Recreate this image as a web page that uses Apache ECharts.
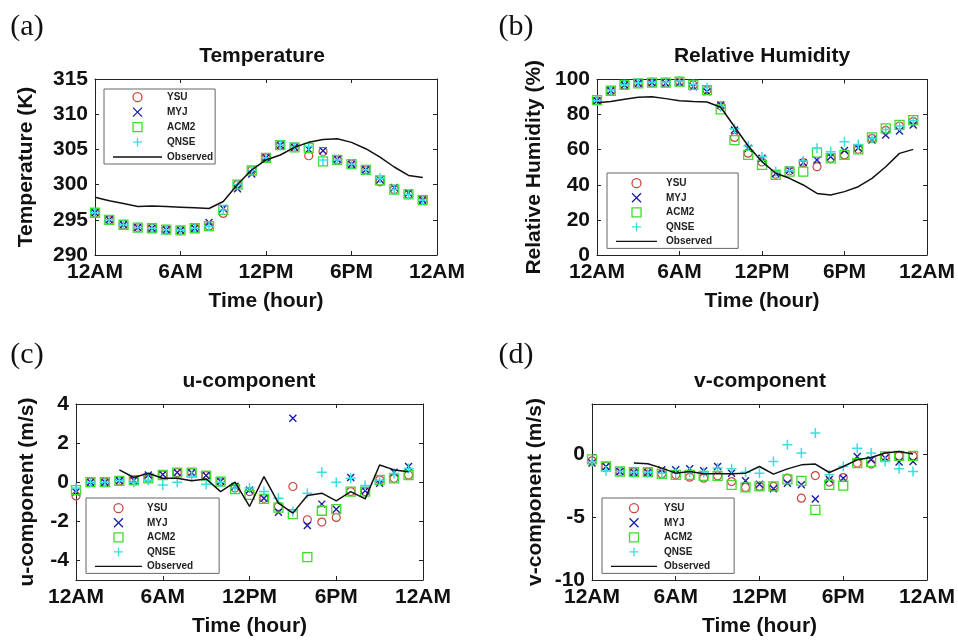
<!DOCTYPE html>
<html><head><meta charset="utf-8">
<script src="https://cdn.jsdelivr.net/npm/echarts@6/dist/echarts.min.js"></script>
<style>html,body{margin:0;padding:0;background:#fff}#c{width:958px;height:640px}</style>
</head><body><div id="c"></div>
<script>
// ---------- data ----------
const hours = [0,1,2,3,4,5,6,7,8,9,10,11,12,13,14,15,16,17,18,19,20,21,22,23];
const xTickLabels = ['12AM','6AM','12PM','6PM','12AM'];
const seriesNames = ['YSU','MYJ','ACM2','QNSE','Observed'];

// (a) Temperature (K)
const tempYSU  = [296.0,295.0,294.3,293.9,293.8,293.6,293.5,293.8,294.1,295.9,300.0,302.0,303.8,305.6,305.3,304.1,304.7,303.5,302.9,302.1,300.4,299.3,298.6,297.8];
const tempMYJ  = [296.0,295.0,294.3,293.9,293.8,293.6,293.5,293.8,294.6,296.6,299.4,301.5,303.8,305.6,305.3,305.0,304.8,303.6,302.9,302.1,300.7,299.6,298.8,297.8];
const tempACM2 = [296.0,295.0,294.3,293.9,293.8,293.6,293.5,293.8,294.1,296.4,300.0,302.0,303.8,305.6,305.3,305.2,303.3,303.5,302.9,302.1,300.6,299.3,298.6,297.8];
const tempQNSE = [296.0,295.0,294.3,293.9,293.8,293.6,293.5,293.8,294.1,296.4,300.0,302.0,303.8,305.6,305.3,305.4,303.5,303.5,302.9,302.1,300.9,299.3,298.6,297.8];
const tempObs  = [298.2,297.7,297.3,296.9,296.95,296.9,296.8,296.7,296.6,297.6,300.0,302.1,303.5,304.2,305.3,306.0,306.4,306.5,306.0,305.1,303.9,302.5,301.3,301.0];

// (b) Relative Humidity (%)
const rhYSU  = [87.9,93.6,96.9,97.8,98.2,98.2,98.8,96.9,94.0,85.0,67.0,58.0,53.0,46.0,48.0,52.6,50.3,55.1,57.0,60.2,66.5,71.0,73.5,76.0];
const rhMYJ  = [87.9,93.6,96.9,97.8,98.2,97.8,98.2,95.9,93.0,85.5,71.2,60.8,55.1,46.5,48.5,52.6,54.1,56.0,59.5,61.0,65.5,68.4,70.7,74.1];
const rhACM2 = [88.2,93.6,96.9,97.8,98.2,98.2,98.8,96.9,94.0,83.0,65.5,57.0,51.3,45.6,47.5,47.5,58.3,55.1,57.0,60.2,67.0,72.2,74.1,76.9];
const rhQNSE = [87.9,94.0,97.0,98.0,98.5,98.6,99.2,97.2,95.5,84.5,72.0,62.1,56.0,47.5,48.0,53.5,60.8,58.9,64.6,63.0,66.5,71.5,73.5,76.5];
const rhObs  = [86.8,87.4,88.7,89.9,90.2,89.1,87.9,87.4,87.2,84.2,73.1,62.1,53.2,46.6,43.7,39.9,35.1,34.2,36.1,38.9,43.7,50.3,57.9,60.2];

// (c) u-component (m/s)
const uYSU  = [-0.7,0.0,0.0,0.07,0.1,0.2,0.37,0.49,0.49,0.34,0.03,-0.3,-0.48,-0.82,-1.24,-0.22,-1.92,-2.04,-1.8,-0.48,-0.48,0.12,0.2,0.37];
const uMYJ  = [-0.5,0.0,0.0,0.07,0.1,0.37,0.4,0.5,0.49,0.34,0.05,-0.2,-0.4,-0.82,-1.53,3.27,-2.21,-1.12,-1.38,0.24,-0.43,-0.05,0.51,0.8];
const uACM2 = [-0.4,0.0,0.0,0.07,0.1,0.2,0.37,0.49,0.49,0.34,0.03,-0.35,-0.65,-0.85,-1.3,-1.63,-3.83,-1.46,-1.38,-0.48,-0.48,0.12,0.2,0.37];
const uQNSE = [-0.3,0.0,0.0,0.07,0.0,0.1,-0.14,0.0,0.3,-0.1,0.0,-0.3,-0.3,-0.48,-0.82,-1.5,-0.56,0.51,0.0,0.2,-0.17,0.1,0.45,0.7];
const uObs  = [null,null,null,0.63,0.24,0.46,0.2,0.2,0.07,0.17,-0.48,0.0,-1.24,0.29,-1.07,-1.58,-0.68,-0.56,-0.95,-0.48,-0.85,0.88,0.63,0.54];

// (d) v-component (m/s)
const vYSU  = [-0.52,-0.97,-1.37,-1.42,-1.42,-1.55,-1.63,-1.82,-1.9,-1.71,-2.17,-2.64,-2.56,-2.56,-1.9,-3.49,-1.69,-2.21,-1.85,-0.7,-0.78,-0.17,-0.12,-0.12];
const vMYJ  = [-0.7,-0.97,-1.37,-1.42,-1.42,-1.23,-1.23,-1.16,-1.31,-0.97,-1.5,-2.1,-2.38,-2.75,-2.3,-2.43,-3.55,-2.0,-1.9,-0.17,-0.44,-0.3,-0.62,-0.57];
const vACM2 = [-0.4,-0.97,-1.37,-1.42,-1.42,-1.55,-1.63,-1.63,-1.71,-1.71,-2.43,-2.64,-2.56,-2.56,-2.0,-2.11,-4.42,-2.43,-2.49,-0.7,-0.6,-0.17,-0.12,-0.12];
const vQNSE = [-0.6,-1.3,-1.37,-1.42,-1.42,-1.5,-1.5,-1.4,-1.45,-1.1,-1.16,-1.42,-1.5,-0.57,0.76,0.1,1.69,-1.63,-0.97,0.49,0.1,-0.57,-1.16,-1.37];
const vObs  = [null,null,null,-0.7,-0.76,-1.1,-1.5,-1.37,-1.55,-1.55,-1.55,-1.5,-0.97,-1.58,-1.16,-0.84,-0.78,-1.45,-0.97,-0.44,-0.25,0.1,0.22,0.02];

// y-axis tick values
const yTicksA = [290,295,300,305,310,315];
const yTicksB = [0,20,40,60,80,100];
const yTicksC = [-4,-2,0,2,4];
const yTicksD = [-10,-5,0];

// ---------- styles ----------
const FONT = 'Liberation Sans, Arial, sans-serif';
const SERIF = 'Liberation Serif, Times New Roman, serif';
const markStyle = {
  YSU:  {symbol:'circle', size:8, color:'#c8453f', bw:1.2},
  MYJ:  {symbol:'path://M0,0L10,10M10,0L0,10', size:7, color:'#1c1ca8', bw:1.4},
  ACM2: {symbol:'path://M0,0L10,0L10,10L0,10Z', size:9, color:'#3fdc2a', bw:1.3},
  QNSE: {symbol:'path://M5,0L5,10M0,5L10,5', size:10, color:'#3cdede', bw:1.5}
};

const panels = [
  {grid:{left:95, top:79, width:342, height:176}, ymin:290, ymax:315, yticks:yTicksA,
   yname:'Temperature (K)', nameGap:58,
   data:[tempYSU,tempMYJ,tempACM2,tempQNSE,tempObs]},
  {grid:{left:597, top:79.5, width:331, height:175.5}, ymin:0, ymax:100, yticks:yTicksB,
   yname:'Relative Humidity (%)', nameGap:52,
   data:[rhYSU,rhMYJ,rhACM2,rhQNSE,rhObs]},
  {grid:{left:76, top:404, width:347, height:176}, ymin:-5, ymax:4, yticks:yTicksC,
   yname:'u-component (m/s)', nameGap:38,
   data:[uYSU,uMYJ,uACM2,uQNSE,uObs]},
  {grid:{left:592, top:404, width:336, height:176}, ymin:-10, ymax:4, yticks:yTicksD,
   yname:'v-component (m/s)', nameGap:46,
   data:[vYSU,vMYJ,vACM2,vQNSE,vObs]}
];

const grids=[], xAxes=[], yAxes=[], series=[];
const axisLine = {show:true, onZero:false, lineStyle:{color:'#222', width:1}};
const tickStyle = {inside:true, length:4, lineStyle:{color:'#222', width:1}};
panels.forEach((p, i) => {
  grids.push(Object.assign({containLabel:false}, p.grid));
  xAxes.push({gridIndex:i, type:'value', min:0, max:24, interval:6, position:'bottom',
    axisLine, axisTick:tickStyle, splitLine:{show:false},
    axisLabel:{margin:7, color:'#111', fontFamily:FONT, fontWeight:'bold', fontSize:21,
      formatter: v => xTickLabels[v/6]},
    name:'Time (hour)', nameLocation:'middle', nameGap:36,
    nameTextStyle:{color:'#111', fontFamily:FONT, fontWeight:'bold', fontSize:21}});
  xAxes.push({gridIndex:i, type:'value', min:0, max:24, interval:6, position:'top',
    axisLine, axisTick:tickStyle, splitLine:{show:false}, axisLabel:{show:false}});
  yAxes.push({gridIndex:i, type:'value', min:p.ymin, max:p.ymax, position:'left',
    axisLine, axisTick:Object.assign({customValues:p.yticks}, tickStyle), splitLine:{show:false},
    axisLabel:{customValues:p.yticks, margin:7, color:'#111', fontFamily:FONT, fontWeight:'bold', fontSize:21},
    name:p.yname, nameLocation:'middle', nameGap:p.nameGap,
    nameTextStyle:{color:'#111', fontFamily:FONT, fontWeight:'bold', fontSize:21}});
  yAxes.push({gridIndex:i, type:'value', min:p.ymin, max:p.ymax, position:'right',
    axisLine, axisTick:Object.assign({customValues:p.yticks}, tickStyle), splitLine:{show:false},
    axisLabel:{show:false}});
  ['YSU','MYJ','ACM2','QNSE'].forEach((nm, k) => {
    const s = markStyle[nm];
    series.push({name:nm, type:'scatter', xAxisIndex:2*i, yAxisIndex:2*i,
      symbol:s.symbol, symbolSize:s.size,
      itemStyle:{color:'rgba(0,0,0,0)', borderColor:s.color, borderWidth:s.bw, opacity:1},
      emphasis:{disabled:true},
      data: hours.map((h, j) => [h, p.data[k][j]])});
  });
  series.push({name:'Observed', type:'line', xAxisIndex:2*i, yAxisIndex:2*i,
    symbol:'none', showSymbol:false, connectNulls:false,
    lineStyle:{color:'#111', width:1.5}, itemStyle:{color:'#111'},
    emphasis:{disabled:true},
    data: hours.map((h, j) => [h, p.data[4][j]])});
});

function legendAt(left, top, padding, itemWidth, gap, textPad) {
  return {left, top, orient:'vertical', padding, itemWidth, itemHeight:9, itemGap:gap,
    data:['YSU','MYJ','ACM2','QNSE',
      {name:'Observed', icon:'path://M0,0L60,0L60,1.7L0,1.7Z', itemStyle:{color:'#111', borderWidth:0}}],
    selectedMode:false, backgroundColor:'#fff',
    borderColor:'#666', borderWidth:1,
    itemStyle:{borderWidth:1.3},
    textStyle:{fontFamily:FONT, fontSize:10, fontWeight:'bold', color:'#222', lineHeight:10,
      padding:[0,0,0,textPad]}};
}
const legends = [
  legendAt(104, 89, [3,2,2,9], 49, 4.7, 0),
  legendAt(607, 173, [5,26,2,9], 41, 4.3, 4),
  legendAt(86, 498, [5,26,2,9], 47, 4.3, 0),
  legendAt(602, 498, [5,24,2,9], 46, 4.3, 2)
];

function txt(x, y, text, font, size, weight) {
  return {type:'text', x, y, style:{text, align:'center', verticalAlign:'middle',
    fontFamily:font, fontSize:size, fontWeight:weight, fill:'#111'}};
}
const graphics = [
  txt(27, 27, '(a)', SERIF, 30, 'normal'),
  txt(516, 27, '(b)', SERIF, 30, 'normal'),
  txt(27, 355, '(c)', SERIF, 30, 'normal'),
  txt(516, 355, '(d)', SERIF, 30, 'normal'),
  txt(262, 56, 'Temperature', FONT, 21, 'bold'),
  txt(762, 56, 'Relative Humidity', FONT, 21, 'bold'),
  txt(249, 381, 'u-component', FONT, 21, 'bold'),
  txt(760, 381, 'v-component', FONT, 21, 'bold')
];

const chart = echarts.init(document.getElementById('c'), null, {renderer:'canvas'});
chart.setOption({
  animation:false,
  backgroundColor:'#fff',
  grid:grids, xAxis:xAxes, yAxis:yAxes, series,
  legend:legends,
  graphic:graphics
});
</script></body></html>
